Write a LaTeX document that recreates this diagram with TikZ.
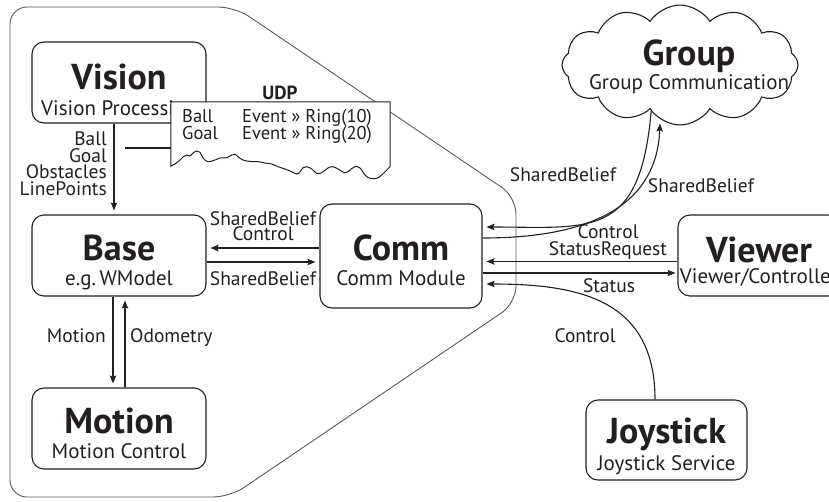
\documentclass[tikz,border=0pt]{standalone}
\usepackage{fontspec}
\setmainfont{PT Sans}
\usetikzlibrary{shapes.symbols,arrows.meta,calc}
\definecolor{ink}{HTML}{231F20}
\definecolor{framegray}{HTML}{5A5A5C}

\begin{document}
\begin{tikzpicture}[x=1pt,y=-1pt,
  module/.style={draw=ink, line width=1.1pt, rounded corners=12pt, inner sep=0pt},
  ttl/.style={anchor=base, font=\fontsize{36}{36}\selectfont\bfseries, text=ink, inner sep=0pt},
  sub/.style={anchor=base, font=\fontsize{21}{21}\selectfont, text=ink, inner sep=0pt},
  lbl/.style={anchor=base, font=\fontsize{19.5}{19.5}\selectfont, text=ink, inner sep=0pt},
  doctxt/.style={anchor=base west, font=\fontsize{18.5}{18.5}\selectfont, text=ink, inner sep=0pt},
  arr/.style={draw=ink, line width=1.1pt, -{Stealth[length=8pt,width=6.5pt,inset=1.5pt]}, shorten >=4pt},
  wire/.style={draw=ink, line width=1.1pt},
]
\useasboundingbox (0,0) rectangle (829,501);

% boundary of the robot
\draw[framegray, line width=0.9pt, rounded corners=17pt]
  (10,250) -- (10,7) -- (235,7) -- (516,197) -- (516,303) -- (230,497) -- (10,497) -- cycle;

% modules
\node[module, minimum width=174pt, minimum height=81pt] (vision) at (119,82.5) {};
\node[module, minimum width=174pt, minimum height=81pt] (base) at (119,255.5) {};
\node[module, minimum width=174pt, minimum height=81pt] (motion) at (119,428.5) {};
\node[module, minimum width=162pt, minimum height=104pt] (comm) at (401,256) {};
\node[module, minimum width=162pt, minimum height=81pt] (viewer) at (759,255.5) {};
\node[module, minimum width=161pt, minimum height=80pt] (joy) at (666.5,440) {};
\node[cloud, draw=ink, line width=1.1pt, cloud puffs=12, cloud puff arc=115,
      aspect=2, minimum width=236pt, minimum height=120pt, inner sep=0pt] (group) at (680,65) {};

\node[ttl] (visionT) at (119,89) {Vision};
\node[sub] (visionS) at (119,115) {Vision Processing};
\node[ttl] (baseT) at (119,260) {Base};
\node[sub] (baseS) at (119,285) {e.g.\,WModel};
\node[ttl] (motionT) at (119,433) {Motion};
\node[sub] (motionS) at (119,458) {Motion Control};
\node[ttl] (commT) at (401,260) {Comm};
\node[sub] (commS) at (401,285) {Comm Module};
\node[ttl] (viewerT) at (759,262) {Viewer};
\node[sub] (viewerS) at (759,283) {Viewer/Controller};
\node[ttl] (joyT) at (666.5,443) {Joystick};
\node[sub] (joyS) at (666.5,470) {Joystick Service};
\node[ttl] (groupT) at (689,65) {Group};
\node[sub] (groupS) at (689,89) {Group Communication};

% UDP message sheet
\node[minimum width=219pt, minimum height=64pt, inner sep=0pt] (udp) at (280.5,134) {};
\draw[wire, line width=1pt, fill=white] (udp.south west) -- (udp.north west) -- (udp.north east) --
  plot[smooth, tension=0.6] coordinates {(390,166.7) (386.7,170) (381.7,175) (376.7,178.3) (370,178.3)
  (365,175) (360,168) (355,166.7) (350,170) (345,172.7) (338,169) (333,166.7) (328,168) (321.7,172.7)
  (316.7,173.3) (311.7,169) (306.7,166.7) (303,167.7) (300,172) (296.7,174) (291.7,171.7) (285,169)
  (278,166.7) (271.7,164) (265,163) (258,161.7) (251.7,161.7) (243,160) (238,156.7) (235,154.3)
  (231.7,155) (226.7,157.7) (220,158) (215,160) (208,161.7) (203,158) (200,152.3) (196.7,151)
  (193,153) (190,156) (186.7,155) (183.3,156.7) (180,160) (175,164) (171,166)} -- cycle;
\node[anchor=base, font=\fontsize{19}{19}\selectfont\bfseries, text=ink, inner sep=0pt] (udpT) at (280,99) {UDP};
\node[doctxt] (udpBall) at (182,122) {Ball};
\node[doctxt] (udpGoal) at (182,139) {Goal};
\node[doctxt] (udpEv1) at (242,122) {Event » Ring(10)};
\node[doctxt] (udpEv2) at (242,139) {Event » Ring(20)};

% Vision -> Base
\draw[arr] ([xshift=-5pt]vision.south) -- ([xshift=-5pt]base.north);
\node[lbl, anchor=base east] (vb1) at (107,145) {Ball};
\node[lbl, anchor=base east] (vb2) at (107,162) {Goal};
\node[lbl, anchor=base east] (vb3) at (107,178) {Obstacles};
\node[lbl, anchor=base east] (vb4) at (107,195) {LinePoints};
\coordinate (tap) at (125,148);
\draw[wire] (tap) -- (tap -| udp.west);

% Base <-> Comm
\draw[arr] ([yshift=8pt]comm.west) -- ([yshift=8pt]comm.west -| base.east);
\draw[arr] ([yshift=-6.5pt]base.east) -- ([yshift=-6.5pt]base.east -| comm.west);
\node[lbl] (bc1) at (263,225) {SharedBelief};
\node[lbl] (bc2) at (263,240) {Control};
\node[lbl] (bc3) at (263,285) {SharedBelief};

% Base <-> Motion
\draw[arr] ([xshift=-6pt]base.south) -- ([xshift=-6pt]motion.north);
\draw[arr] ([xshift=6pt]motion.north) -- ([xshift=6pt]base.south);
\node[lbl, anchor=base east] (bm1) at (106,342) {Motion};
\node[lbl, anchor=base west] (bm2) at (130,342) {Odometry};

% Comm <-> Viewer
\draw[arr] ([yshift=-6pt]viewer.west) -- ([yshift=-6pt]viewer.west -| comm.east);
\draw[arr, shorten >=2pt] ([yshift=-17pt]comm.east) -- ([yshift=-17pt]comm.east -| viewer.west);
\node[lbl] (cv1) at (608,238) {Control};
\node[lbl] (cv2) at (608,255) {StatusRequest};
\node[lbl] (cv3) at (609,292) {Status};

% Joystick -> Comm
\draw[arr] ([xshift=-11.5pt]joy.north) .. controls (655,300) and (580,284) .. ([yshift=-28pt]comm.east);
\node[lbl] (jc) at (585,342) {Control};

% Comm <-> Group
\draw[arr] (group.238) .. controls (640,240) and (590,227) .. ([yshift=29pt]comm.east);
\draw[arr] ([yshift=18pt]comm.east) .. controls (600,238) and (657,200) .. (group.250);
\node[lbl] (cg1) at (563,181) {SharedBelief};
\node[lbl] (cg2) at (701,192) {SharedBelief};
\end{tikzpicture}
\end{document}
